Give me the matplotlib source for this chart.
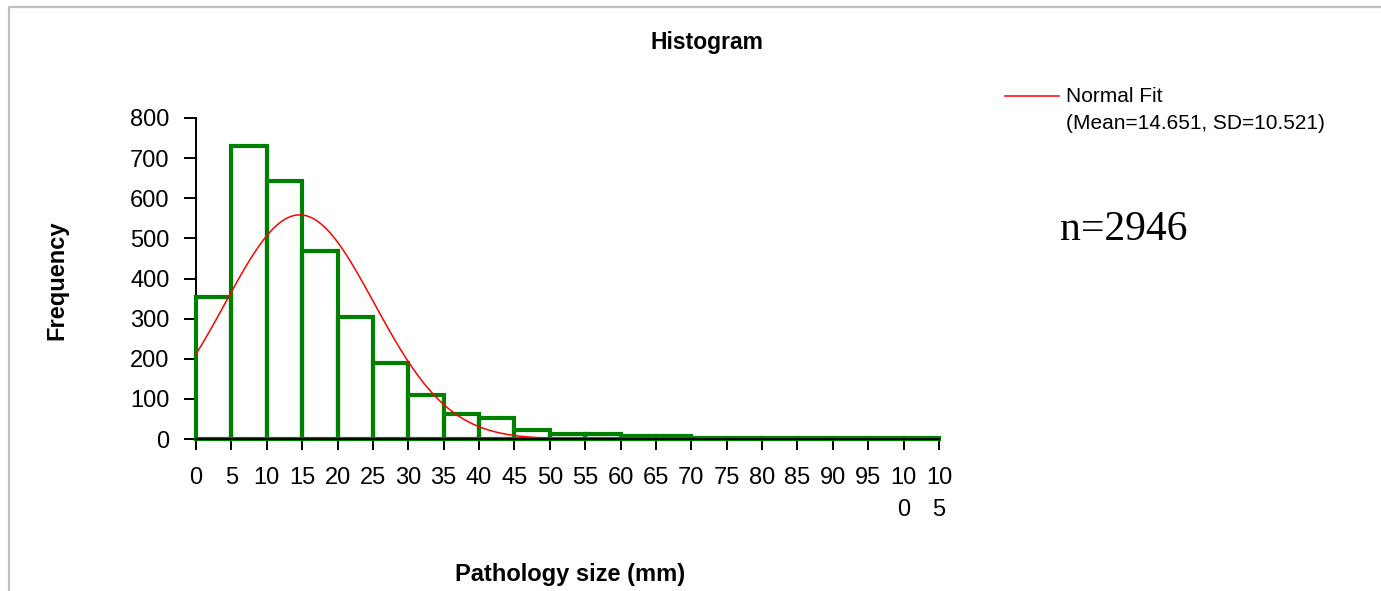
import numpy as np
import matplotlib.pyplot as plt
from matplotlib.lines import Line2D

plt.rcParams['font.family'] = ['Liberation Sans', 'DejaVu Sans']

# histogram bins (mm) and frequencies
bin_starts = [0, 5, 10, 15, 20, 25, 30, 35, 40, 45, 50,
              55, 60, 65, 70, 75, 80, 85, 90, 95, 100]
bin_width = 5
counts = [355, 729, 644, 469, 304, 190, 110, 62, 52, 23, 13,
          13, 8, 8, 2, 2, 2, 2, 2, 2, 2]

# normal fit parameters
fit_mean = 14.651
fit_sd = 10.521
n_total = 2946

x_ticks = list(range(0, 110, 5))
x_tick_labels = ['0', '5', '10', '15', '20', '25', '30', '35', '40', '45', '50',
                 '55', '60', '65', '70', '75', '80', '85', '90', '95', '10\n0', '10\n5']
y_ticks = [0, 100, 200, 300, 400, 500, 600, 700, 800]

W, H = 1381, 591
fig = plt.figure(figsize=(W / 100, H / 100), dpi=100)
ax = fig.add_axes([196 / W, 1 - 439 / H, (939 - 196) / W, (439 - 118) / H])

# bars as outlined rectangles
ax.bar(bin_starts, counts, width=bin_width, align='edge', fill=False,
       edgecolor='#008000', linewidth=3, zorder=3, clip_on=False)

# normal curve scaled to counts per bin
xs = np.linspace(0, 50, 300)
ys = n_total * bin_width / (fit_sd * np.sqrt(2 * np.pi)) * np.exp(-(xs - fit_mean) ** 2 / (2 * fit_sd ** 2))
ax.plot(xs, ys, color='#FF0000', linewidth=1.1, zorder=4, clip_on=False)

ax.set_xlim(0, 105)
ax.set_ylim(0, 800)
ax.set_xticks(x_ticks)
ax.set_xticklabels(x_tick_labels, linespacing=1.6)
ax.set_yticks(y_ticks)
for s in ['top', 'right']:
    ax.spines[s].set_visible(False)
for s in ['left', 'bottom']:
    ax.spines[s].set_linewidth(1.4)
ax.spines['bottom'].set_zorder(5)
ax.tick_params(axis='x', direction='out', length=8, width=1.4, pad=12, labelsize=17)
ax.tick_params(axis='y', direction='out', length=9, width=1.4, pad=10, labelsize=17)

# titles
fig.text(707 / W, 1 - 42 / H, 'Histogram', ha='center', va='center',
         fontsize=16.5, fontweight='bold')
fig.text(570 / W, 1 - 575 / H, 'Pathology size (mm)', ha='center', va='center',
         fontsize=17, fontweight='bold')
fig.text(57 / W, 1 - 280 / H, 'Frequency', ha='center', va='center',
         rotation=90, fontsize=17, fontweight='bold')

# legend entry
fig.add_artist(Line2D([1005 / W, 1059 / W], [1 - 96 / H, 1 - 96 / H],
                      color='#FF0000', linewidth=1.1))
fig.text(1066 / W, 1 - 96 / H, 'Normal Fit', ha='left', va='center', fontsize=15)
fig.text(1066 / W, 1 - 123 / H, f'(Mean={fit_mean}, SD={fit_sd})',
         ha='left', va='center', fontsize=15)

fig.text(1060 / W, 1 - 240 / H, f'n={n_total}', ha='left', va='baseline',
         fontsize=30, family=['Liberation Serif', 'DejaVu Serif'])

# frame on top and left edges
fig.add_artist(Line2D([9 / W, 9 / W, 1], [0, 1 - 7 / H, 1 - 7 / H],
                      color='#BFBFBF', linewidth=1.6))

fig.savefig('out.png', dpi=100)
